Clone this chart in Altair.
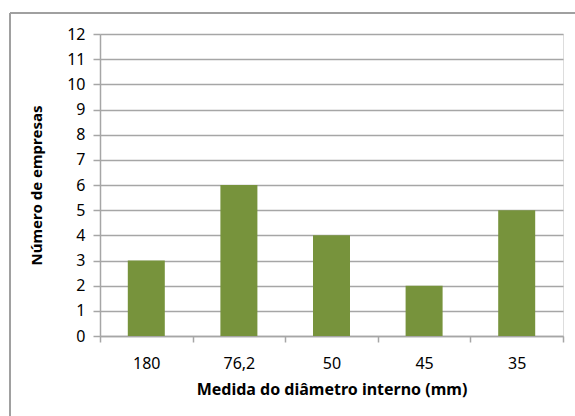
import altair as alt
import pandas as pd

categories = ["180", "76,2", "50", "45", "35"]
values = [3, 6, 4, 2, 5]
y_ticks = list(range(0, 13))

df = pd.DataFrame({"cat": categories, "val": values})

FONT = "Noto Sans"
GRAY = "#a6a6a6"

bars = alt.Chart(df).mark_bar(size=37, color="#77933c").encode(
    x=alt.X("cat:N", sort=categories,
            scale=alt.Scale(paddingInner=0, paddingOuter=0),
            axis=alt.Axis(title="Medida do diâmetro interno (mm)", labelAngle=0,
                          tickBand="extent", tickSize=6, tickColor=GRAY,
                          domainColor=GRAY, domainWidth=1.5, tickWidth=1.5,
                          labelPadding=13, labelFont=FONT, labelFontSize=16,
                          labelColor="#000000", titleFont=FONT, titleFontSize=16,
                          titleFontWeight="bold", titleColor="#000000",
                          titlePadding=10, grid=False)),
    y=alt.Y("val:Q", scale=alt.Scale(domain=[0, 12], nice=False),
            axis=alt.Axis(title="Número de empresas", values=y_ticks,
                          tickSize=7, tickColor=GRAY, tickWidth=1.5,
                          domainColor=GRAY, domainWidth=1.5,
                          gridColor=GRAY, gridWidth=1.5,
                          labelPadding=8, labelFont=FONT, labelFontSize=16,
                          labelColor="#000000", titleFont=FONT, titleFontSize=15,
                          titleFontWeight="bold", titleColor="#000000",
                          titlePadding=22)),
)

left_border = alt.Chart(df).mark_rule(color="#a0a0a0", strokeWidth=1.5).encode(
    x=alt.value(-90), y=alt.value(-21), y2=alt.value(500))
top_border = alt.Chart(df).mark_rule(color="#a0a0a0", strokeWidth=1.5).encode(
    x=alt.value(-90), x2=alt.value(600), y=alt.value(-21))

chart = alt.layer(bars, left_border, top_border).properties(
    width=463, height=302,
    autosize=alt.AutoSizeParams(type="none"),
    padding={"left": 100, "top": 34, "right": 12, "bottom": 80},
).configure_view(stroke=None).configure(background="white")

chart.save("out.html", embed_options={"renderer": "svg", "actions": False})
